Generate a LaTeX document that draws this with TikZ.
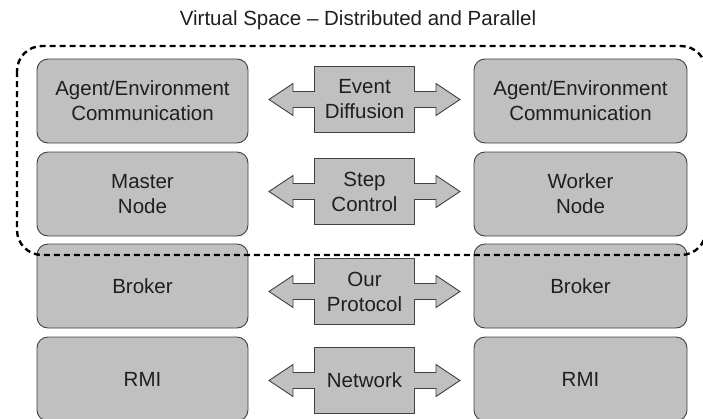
\documentclass[tikz,border=0pt]{standalone}
\usepackage{fontspec}
\setmainfont{Liberation Sans}
\begin{document}
\begin{tikzpicture}[x=1pt,y=-1pt,
  every node/.style={font=\fontsize{20.5}{25}\selectfont, text=black!88, align=center, inner sep=0pt},
  layer/.style={draw=black!75, fill=layerfill, line width=0.9pt, rounded corners=11pt,
                minimum height=84pt},
  leftbox/.style={layer, minimum width=211pt},
  rightbox/.style={layer, minimum width=213pt},
  arrowbody/.style={draw=black!75, fill=layerfill, line width=0.9pt, line join=miter},
  vsframe/.style={draw=black, line width=2.4pt, dash pattern=on 6pt off 4pt, rounded corners=25pt},
  dblarrow/.pic={
    \draw[arrowbody] (-95.5,0) -- (-71.5,-16) -- (-71.5,-8) -- (-50,-8) -- (-50,-33)
      -- (50,-33) -- (50,-8) -- (71.5,-8) -- (71.5,-16) -- (95.5,0) -- (71.5,16)
      -- (71.5,8) -- (50,8) -- (50,33) -- (-50,33) -- (-50,8) -- (-71.5,8) -- (-71.5,16) -- cycle;
  }]
\definecolor{layerfill}{RGB}{192,192,192}
\useasboundingbox (0,0) rectangle (703,418);
\clip (0,0) rectangle (703,418);

% title
\node (title) at (358,20) {Virtual Space \textendash{} Distributed and Parallel};

% left stack
\node[leftbox] (lac) at (142.5,101) {Agent/Environment\\Communication};
\node[leftbox] (lmn) at (142.5,194) {Master\\Node};
\node[leftbox] (lbr) at (142.5,286) {Broker};
\node[leftbox] (lrmi) at (142.5,379) {RMI};

% right stack
\node[rightbox] (rac) at (580.5,101) {Agent/Environment\\Communication};
\node[rightbox] (rwn) at (580.5,194) {Worker\\Node};
\node[rightbox] (rbr) at (580.5,286) {Broker};
\node[rightbox] (rrmi) at (580.5,379) {RMI};

% double arrows between the stacks
\pic at (364.5,99.5) {dblarrow};
\node (evt) at (364.5,99.5) {Event\\Diffusion};
\pic at (364.5,191.5) {dblarrow};
\node (stc) at (364.5,191.5) {Step\\Control};
\pic at (364.5,291.5) {dblarrow};
\node (prt) at (364.5,291.5) {Our\\Protocol};
\pic at (364.5,380.5) {dblarrow};
\node (net) at (364.5,380.5) {Network};

% virtual space frame
\draw[vsframe] (17,46) rectangle (706,255);
\end{tikzpicture}
\end{document}
